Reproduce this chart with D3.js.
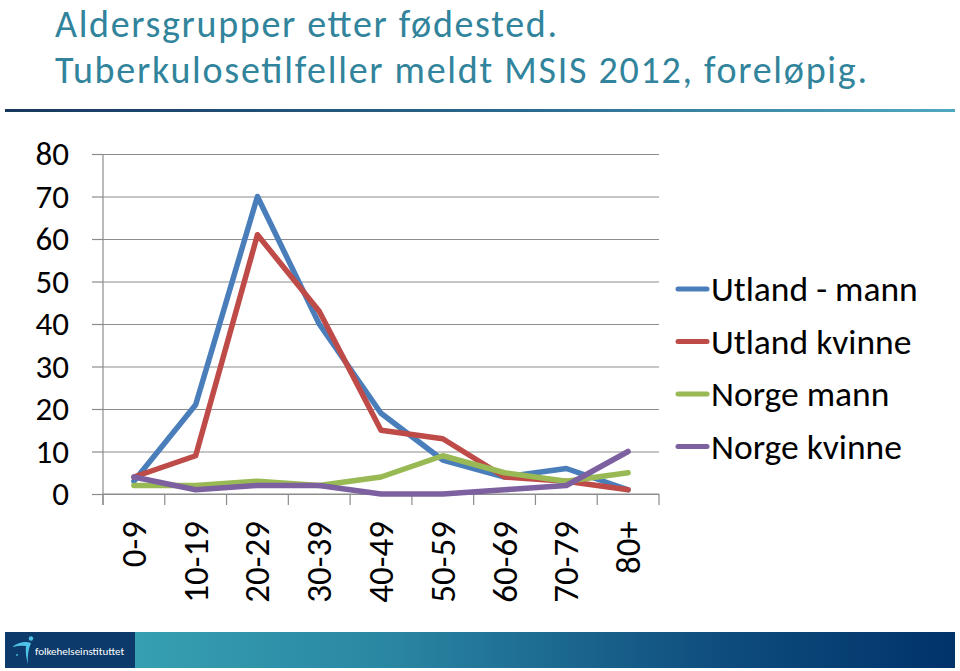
<!DOCTYPE html>
<html>
<head>
<meta charset="utf-8">
<script src="https://cdn.jsdelivr.net/npm/d3@7"></script>
<style>
  body { margin: 0; background: #fff; }
  svg { display: block; font-family: Carlito, Lato, sans-serif; }
</style>
</head>
<body>
<div id="chart"></div>
<script>
// data
const ageGroups = ['0-9', '10-19', '20-29', '30-39', '40-49', '50-59', '60-69', '70-79', '80+'];
const utlandMann = [3, 21, 70, 40, 19, 8, 4, 6, 1];
const utlandKvinne = [4, 9, 61, 43, 15, 13, 4, 3, 1];
const norgeMann = [2, 2, 3, 2, 4, 9, 5, 3, 5];
const norgeKvinne = [4, 1, 2, 2, 0, 0, 1, 2, 10];
const yTicks = [0, 10, 20, 30, 40, 50, 60, 70, 80];

const series = [
  { name: 'Utland - mann', values: utlandMann, color: '#4a7ebb' },
  { name: 'Utland kvinne', values: utlandKvinne, color: '#be4b48' },
  { name: 'Norge mann', values: norgeMann, color: '#98b954' },
  { name: 'Norge kvinne', values: norgeKvinne, color: '#7d60a0' }
];

const width = 960, height = 671;
const plot = { left: 103, right: 659, top: 154, bottom: 494 };

const svg = d3.select('#chart').append('svg')
  .attr('width', width)
  .attr('height', height);

const defs = svg.append('defs');

// title rule gradient
const ruleGrad = defs.append('linearGradient').attr('id', 'ruleGrad');
ruleGrad.append('stop').attr('offset', '0%').attr('stop-color', '#17375e');
ruleGrad.append('stop').attr('offset', '55%').attr('stop-color', '#2b6a8f');
ruleGrad.append('stop').attr('offset', '100%').attr('stop-color', '#4fa9c0');

// footer gradient
const footGrad = defs.append('linearGradient').attr('id', 'footGrad');
footGrad.append('stop').attr('offset', '0%').attr('stop-color', '#3dacb9');
footGrad.append('stop').attr('offset', '40%').attr('stop-color', '#2a87a3');
footGrad.append('stop').attr('offset', '75%').attr('stop-color', '#0f4d7e');
footGrad.append('stop').attr('offset', '100%').attr('stop-color', '#00336a');

// title (stretched a little to the width of the original lines)
svg.append('text')
  .attr('x', 55).attr('y', 37)
  .attr('fill', '#31849b')
  .attr('textLength', 502)
  .attr('lengthAdjust', 'spacing')
  .style('font-size', '38px')
  .text('Aldersgrupper etter fødested.');

svg.append('text')
  .attr('x', 55).attr('y', 83)
  .attr('fill', '#31849b')
  .attr('textLength', 812)
  .attr('lengthAdjust', 'spacing')
  .style('font-size', '38px')
  .text('Tuberkulosetilfeller meldt MSIS 2012, foreløpig.');

svg.append('rect')
  .attr('x', 5).attr('y', 109)
  .attr('width', 950).attr('height', 3)
  .attr('fill', 'url(#ruleGrad)');

// scales
const x = d3.scaleBand()
  .domain(ageGroups)
  .range([plot.left, plot.right]);

const y = d3.scaleLinear()
  .domain([0, 80])
  .range([plot.bottom, plot.top]);

// gridlines
svg.append('g')
  .attr('transform', `translate(${plot.left},0)`)
  .call(d3.axisLeft(y).tickValues(yTicks).tickSize(-(plot.right - plot.left)).tickFormat(''))
  .call(g => g.select('.domain').remove())
  .call(g => g.selectAll('line').attr('stroke', '#8c8c8c').attr('stroke-width', 1.2));

// y axis
svg.append('g')
  .attr('transform', `translate(${plot.left},0)`)
  .call(d3.axisLeft(y).tickValues(yTicks).tickSize(11).tickPadding(23))
  .call(g => g.select('.domain').attr('d', `M0,${plot.top}V${plot.bottom + 11}`).attr('stroke', '#8c8c8c').attr('stroke-width', 1.2))
  .call(g => g.selectAll('line').attr('stroke', '#8c8c8c').attr('stroke-width', 1.2))
  .call(g => g.selectAll('text')
    .attr('fill', '#000')
    .style('font-size', '33px')
    .style('font-family', 'Carlito, Lato, sans-serif'));

// x axis: ticks at category boundaries
const xAxisG = svg.append('g')
  .attr('transform', `translate(0,${plot.bottom})`);

xAxisG.append('line')
  .attr('x1', plot.left).attr('x2', plot.right)
  .attr('stroke', '#8c8c8c').attr('stroke-width', 1.2);

xAxisG.selectAll('.xtick')
  .data(ageGroups.concat(['end']))
  .enter().append('line')
  .attr('class', 'xtick')
  .attr('x1', (d, i) => i < ageGroups.length ? x(d) : plot.right)
  .attr('x2', (d, i) => i < ageGroups.length ? x(d) : plot.right)
  .attr('y1', 0).attr('y2', 11)
  .attr('stroke', '#8c8c8c').attr('stroke-width', 1.2);

xAxisG.selectAll('.xlabel')
  .data(ageGroups)
  .enter().append('text')
  .attr('class', 'xlabel')
  .attr('transform', d => `translate(${x(d) + x.bandwidth() / 2 + 12},27) rotate(-90)`)
  .attr('text-anchor', 'end')
  .attr('fill', '#000')
  .style('font-size', '35px')
  .text(d => d);

// lines
const line = d3.line()
  .x((d, i) => x(ageGroups[i]) + x.bandwidth() / 2)
  .y(d => y(d));

svg.append('g').selectAll('path')
  .data(series)
  .enter().append('path')
  .attr('d', d => line(d.values))
  .attr('fill', 'none')
  .attr('stroke', d => d.color)
  .attr('stroke-width', 5.5)
  .attr('stroke-linejoin', 'round')
  .attr('stroke-linecap', 'round');

// legend
const legend = svg.append('g')
  .selectAll('g')
  .data(series)
  .enter().append('g')
  .attr('transform', (d, i) => `translate(678,${289 + i * 52.5})`);

legend.append('line')
  .attr('x1', 0).attr('x2', 29)
  .attr('stroke', d => d.color)
  .attr('stroke-width', 5)
  .attr('stroke-linecap', 'round');

legend.append('text')
  .attr('x', 33)
  .attr('dy', '0.35em')
  .attr('fill', '#000')
  .style('font-size', '35.5px')
  .text(d => d.name);

// footer
svg.append('rect')
  .attr('x', 5).attr('y', 632)
  .attr('width', 950).attr('height', 36)
  .attr('fill', 'url(#footGrad)');

svg.append('rect')
  .attr('x', 5).attr('y', 632)
  .attr('width', 130).attr('height', 36)
  .attr('fill', '#0c3a6b');

// logo swoosh
svg.append('path')
  .attr('d', 'M12,647 Q22,640 31,643 Q27,652 28,664 Q25,654 26,646 Q20,645 12,647 Z')
  .attr('fill', '#4fc3e8');
svg.append('circle').attr('cx', 31).attr('cy', 638.5).attr('r', 2.2).attr('fill', '#4fc3e8');
svg.append('circle').attr('cx', 17).attr('cy', 655).attr('r', 0.9).attr('fill', '#4fc3e8');

svg.append('text')
  .attr('x', 35).attr('y', 655)
  .attr('fill', '#fff')
  .style('font-size', '11px')
  .text('folkehelseinstituttet');
</script>
</body>
</html>
